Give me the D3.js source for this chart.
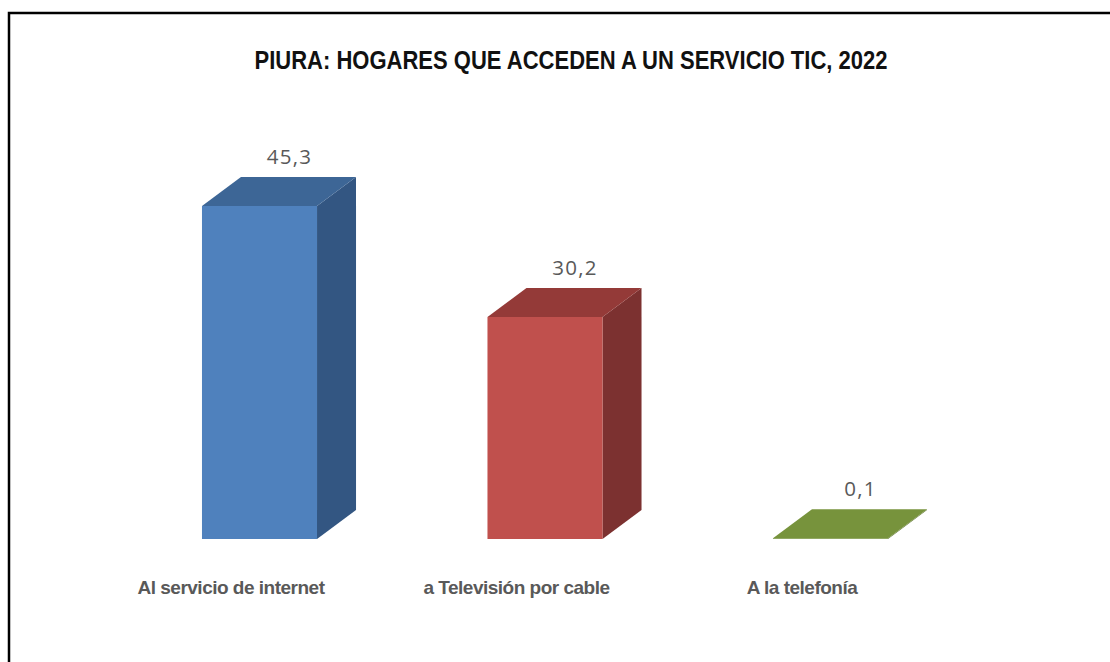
<!DOCTYPE html>
<meta charset="utf-8">
<script src="https://d3js.org/d3.v7.min.js"></script>
<style>
  body { margin: 0; background: #fff; }
</style>
<div id="chart"></div>
<script>
  // datos del gráfico
  const titulo = "PIURA: HOGARES QUE ACCEDEN A UN SERVICIO TIC, 2022";
  const categorias = ["Al servicio de internet", "a Televisión por cable", "A la telefonía"];
  const valores = [45.3, 30.2, 0.1];
  const colores = [
    {front: "#4f81bd", top: "#3d6696", side: "#335682"},
    {front: "#c0504d", top: "#943a38", side: "#7c3130"},
    {front: "#77933c", top: "#77933c", side: "#5f7630"}
  ];

  const width = 1110, height = 662;
  const depth = {dx: 39, dy: -29};   // desplazamiento 3D

  const svg = d3.select("#chart")
    .append("svg")
      .attr("width", width)
      .attr("height", height);

  // marco (solo borde izquierdo y superior visibles)
  svg.append("path")
    .attr("d", `M9,${height + 5} L9,13 L${width + 5},13`)
    .attr("fill", "none")
    .attr("stroke", "#000")
    .attr("stroke-width", 2.5);

  svg.append("text")
    .attr("x", 571)
    .attr("y", 69)
    .attr("text-anchor", "middle")
    .attr("font-family", "'Liberation Sans Narrow', 'Arial Narrow', 'Liberation Sans', sans-serif")
    .attr("font-weight", "bold")
    .attr("font-size", 25)
    .attr("textLength", 633)
    .attr("lengthAdjust", "spacingAndGlyphs")
    .attr("fill", "#111")
    .text(titulo);

  const x = d3.scaleBand()
    .domain(categorias)
    .range([116.75, 973.25])
    .paddingInner(0.597)
    .paddingOuter(0.2985);

  const y = d3.scaleLinear()
    .domain([0, 45.3])
    .range([539, 206]);

  const data = categorias.map((c, i) => ({cat: c, val: valores[i], col: colores[i]}));
  const bw = x.bandwidth();

  const bars = svg.selectAll("g.bar")
    .data(data)
    .join("g")
      .attr("class", "bar");

  // cara lateral
  bars.append("path")
    .attr("fill", d => d.col.side)
    .attr("d", d => {
      const x1 = x(d.cat) + bw, yt = y(d.val), yb = y(0);
      return `M${x1},${yt} L${x1 + depth.dx},${yt + depth.dy} L${x1 + depth.dx},${yb + depth.dy} L${x1},${yb} Z`;
    });

  // cara frontal
  bars.append("rect")
    .attr("x", d => x(d.cat))
    .attr("y", d => y(d.val))
    .attr("width", bw)
    .attr("height", d => y(0) - y(d.val))
    .attr("fill", d => d.col.front);

  // cara superior
  bars.append("path")
    .attr("fill", d => d.col.top)
    .attr("d", d => {
      const x0 = x(d.cat), yt = y(d.val);
      return `M${x0},${yt} L${x0 + depth.dx},${yt + depth.dy} L${x0 + bw + depth.dx},${yt + depth.dy} L${x0 + bw},${yt} Z`;
    });

  // etiquetas de valor
  svg.selectAll("text.valor")
    .data(data)
    .join("text")
      .attr("class", "valor")
      .attr("x", d => x(d.cat) + bw / 2 + 30)
      .attr("y", d => y(d.val) - 42)
      .attr("text-anchor", "middle")
      .attr("font-family", "'Open Sans', 'Noto Sans', sans-serif")
      .attr("font-size", 20.5)
      .attr("letter-spacing", 1.2)
      .attr("fill", "#595959")
      .text(d => d3.format(".1f")(d.val).replace(".", ","));

  // etiquetas de categoría
  svg.selectAll("text.cat")
    .data(data)
    .join("text")
      .attr("class", "cat")
      .attr("x", d => x(d.cat) + bw / 2 - 28.5)
      .attr("y", 594)
      .attr("text-anchor", "middle")
      .attr("font-family", "'Liberation Sans', Arial, sans-serif")
      .attr("font-weight", "bold")
      .attr("font-size", 19)
      .attr("letter-spacing", -0.5)
      .attr("fill", "#595959")
      .text(d => d.cat);
</script>
